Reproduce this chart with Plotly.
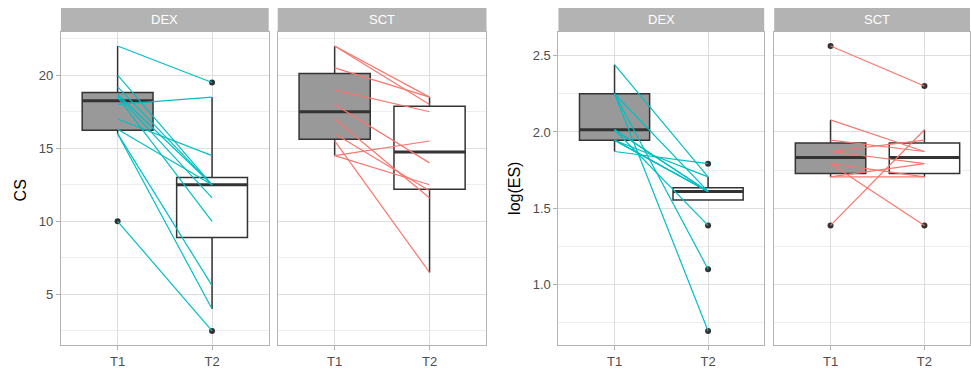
import numpy as np
import plotly.graph_objects as go

# ---------------- data ----------------
timepoints = ["T1", "T2"]
groups = ["DEX", "SCT"]

# CS scores, paired by subject (T1[i] -> T2[i])
cs_dex_t1 = [22, 20, 19.2, 18.7, 18.6, 18.5, 18, 17, 16.3, 16, 16, 10]
cs_dex_t2 = [19.5, 12.5, 12.5, 12.5, 11.6, 10, 18.5, 14.5, 12.5, 5.6, 4, 2.5]
cs_sct_t1 = [22, 22, 20.5, 19, 18, 17, 16, 15.5, 14.5, 14.5]
cs_sct_t2 = [18.5, 18.0, 18.5, 17.5, 14, 11.6, 12.1, 6.5, 15.5, 12.5]

# ES raw values (plotted as log(ES)), paired by subject
es_dex_t1 = [11.5, 9.5, 9.5, 9.5, 7.5, 7.5, 7.5, 7, 7, 7, 7, 6.5]
es_dex_t2 = [5.5, 5, 2, 3, 5, 5, 4, 5, 5, 5.5, 5, 6]
es_sct_t1 = [13, 4, 8, 6, 7, 6.5, 6.5, 6, 5.5, 5.5]
es_sct_t2 = [10, 7.5, 6.5, 4, 6.5, 7, 6, 5.5, 6, 5.5]

group_colors = {"DEX": "#00BFC4", "SCT": "#F8766D"}
box_fills = {"T1": "#999999", "T2": "#FFFFFF"}

W, H = 971, 369
FONT = "Liberation Sans"
TXT = "#4D4D4D"
BOX_LINE = "#333333"


def px(x):
    return x / W


def py(y):
    return 1 - y / H


PANEL_TOP, PANEL_BOT, STRIP_TOP = 32, 348, 8
ydom = [py(PANEL_BOT), py(PANEL_TOP)]
xdoms = [
    [px(61), px(269)],
    [px(278), px(487)],
    [px(559), px(765)],
    [px(775), 1.0],
]
xranges = [[0.4, 2.6], [0.4, 2.6], [0.4, 2.6], [0.4, 2.485]]


def box_stats(vals):
    v = np.sort(np.asarray(vals, float))
    q1, med, q3 = np.percentile(v, [25, 50, 75])
    iqr = q3 - q1
    lo_f, hi_f = q1 - 1.5 * iqr, q3 + 1.5 * iqr
    lo = v[v >= lo_f].min()
    hi = v[v <= hi_f].max()
    out = v[(v < lo_f) | (v > hi_f)]
    return q1, med, q3, min(lo, q1), max(hi, q3), out


panels = [
    ("DEX", cs_dex_t1, cs_dex_t2, False),
    ("SCT", cs_sct_t1, cs_sct_t2, False),
    ("DEX", es_dex_t1, es_dex_t2, True),
    ("SCT", es_sct_t1, es_sct_t2, True),
]

fig = go.Figure()
for i, (grp, t1, t2, use_log) in enumerate(panels):
    xa = "x" if i == 0 else f"x{i + 1}"
    ya = "y" if i == 0 else f"y{i + 1}"
    v1 = np.log(np.asarray(t1, float)) if use_log else np.asarray(t1, float)
    v2 = np.log(np.asarray(t2, float)) if use_log else np.asarray(t2, float)
    for pos, (tp, vals) in enumerate(zip(timepoints, [v1, v2]), start=1):
        q1, med, q3, lo, hi, out = box_stats(vals)
        fig.add_trace(go.Box(
            x=[pos], q1=[q1], median=[med], q3=[q3], lowerfence=[lo], upperfence=[hi],
            width=0.75, whiskerwidth=0, fillcolor=box_fills[tp],
            line=dict(color=BOX_LINE, width=1.5), boxpoints=False,
            hoverinfo="skip", showlegend=False, xaxis=xa, yaxis=ya))
        fig.add_trace(go.Scatter(
            x=[pos - 0.375, pos + 0.375], y=[med, med], mode="lines",
            line=dict(color=BOX_LINE, width=3), hoverinfo="skip",
            showlegend=False, xaxis=xa, yaxis=ya))
        if len(out):
            fig.add_trace(go.Scatter(
                x=[pos] * len(out), y=list(out), mode="markers",
                marker=dict(color=BOX_LINE, size=6), hoverinfo="skip",
                showlegend=False, xaxis=xa, yaxis=ya))
    # paired subject lines
    lx, ly = [], []
    for a, b in zip(v1, v2):
        lx += [1, 2, None]
        ly += [a, b, None]
    fig.add_trace(go.Scatter(
        x=lx, y=ly, mode="lines", line=dict(color=group_colors[grp], width=1.2),
        hoverinfo="skip", showlegend=False, xaxis=xa, yaxis=ya))

# y ranges (ggplot 5% expansion)
cs_all = np.concatenate([cs_dex_t1, cs_dex_t2, cs_sct_t1, cs_sct_t2])
es_all = np.log(np.concatenate([es_dex_t1, es_dex_t2, es_sct_t1, es_sct_t2]))


def expand(a):
    lo, hi = float(np.min(a)), float(np.max(a))
    d = (hi - lo) * 0.05
    return [lo - d, hi + d]


yr_cs, yr_es = expand(cs_all), expand(es_all)

layout = dict(
    width=W, height=H, margin=dict(l=0, r=0, t=0, b=0),
    paper_bgcolor="white", plot_bgcolor="white",
    font=dict(family=FONT, color=TXT, size=13),
    showlegend=False,
)
axis_common = dict(showline=True, mirror=True, linecolor="#B3B3B3", linewidth=1,
                   gridcolor="#DEDEDE", gridwidth=1, zeroline=False,
                   tickfont=dict(family=FONT, color=TXT, size=13))
for i in range(4):
    xk = "xaxis" if i == 0 else f"xaxis{i + 1}"
    yk = "yaxis" if i == 0 else f"yaxis{i + 1}"
    ya = "y" if i == 0 else f"y{i + 1}"
    layout[xk] = dict(axis_common, domain=xdoms[i], range=xranges[i], anchor=ya,
                      tickmode="array", tickvals=[1, 2], ticktext=timepoints,
                      ticks="outside", ticklen=4, tickcolor="#B3B3B3", fixedrange=True)
    is_cs = i < 2
    yd = dict(axis_common, domain=ydom, range=yr_cs if is_cs else yr_es,
              anchor="x" if i == 0 else f"x{i + 1}",
              dtick=5 if is_cs else 0.5, tick0=0,
              tickformat="d" if is_cs else ".1f",
              minor=dict(dtick=2.5 if is_cs else 0.25, tick0=0, showgrid=True,
                         gridcolor="#EEEEEE", gridwidth=1),
              fixedrange=True)
    if i in (0, 2):
        yd.update(ticks="outside", ticklen=4, tickcolor="#B3B3B3", showticklabels=True)
    else:
        yd.update(ticks="", showticklabels=False)
    layout[yk] = yd

fig.update_layout(**layout)

# strips
strip_labels = ["DEX", "SCT", "DEX", "SCT"]
for i, lab in enumerate(strip_labels):
    x0, x1 = xdoms[i]
    fig.add_shape(type="rect", xref="paper", yref="paper", x0=x0, x1=x1,
                  y0=py(PANEL_TOP), y1=py(STRIP_TOP), fillcolor="#B3B3B3",
                  line=dict(width=0), layer="above")
    xc = (x0 + x1) / 2 if i < 3 else (x0 + px(981)) / 2
    fig.add_annotation(xref="paper", yref="paper", x=xc,
                       y=(py(PANEL_TOP) + py(STRIP_TOP)) / 2, text=lab, showarrow=False,
                       font=dict(family=FONT, color="white", size=13),
                       xanchor="center", yanchor="middle")

# axis titles
fig.add_annotation(xref="paper", yref="paper", x=px(20), y=py(192), text="CS",
                   textangle=-90, showarrow=False, xanchor="center", yanchor="middle",
                   font=dict(family=FONT, color="black", size=16))
fig.add_annotation(xref="paper", yref="paper", x=px(515), y=py(190), text="log(ES)",
                   textangle=-90, showarrow=False, xanchor="center", yanchor="middle",
                   font=dict(family=FONT, color="black", size=16))

fig.write_html("out.html", config={"displayModeBar": False},
               post_script="document.body.style.margin='0';document.body.style.overflow='hidden';")
